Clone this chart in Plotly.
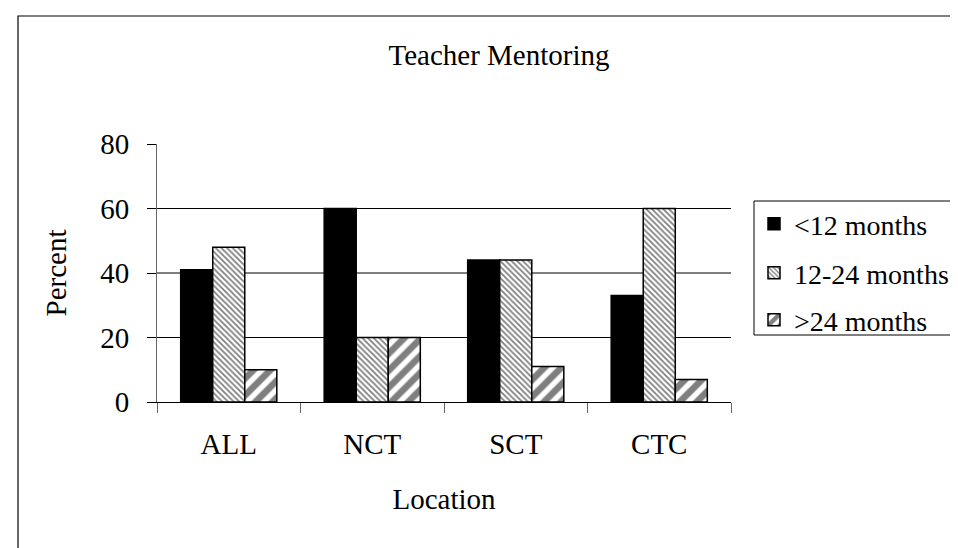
import plotly.graph_objects as go

# ---- data ----
categories = ["ALL", "NCT", "SCT", "CTC"]
series_names = ["<12 months", "12-24 months", ">24 months"]
lt12 = [41, 60, 44, 33]
m12_24 = [48, 20, 44, 60]
gt24 = [10, 20, 11, 7]
y_ticks = [0, 20, 40, 60, 80]
grid_vals = [20, 40, 60]

W, H = 958, 548
L, R, T, B = 149, 723, 136, 394  # plot area in px
FONT = "Liberation Serif, serif"

def px_x(p):
    return (p - L) / (R - L)

def px_y(p):
    return (B - p) / (B - T)

fig = go.Figure()
styles = [
    dict(color="black"),
    dict(color="white", pattern=dict(shape="\\", size=4, solidity=0.45, fgcolor="black", bgcolor="white")),
    dict(color="white", pattern=dict(shape="/", size=12, solidity=0.55, fgcolor="black", bgcolor="white")),
]
legend_ids = ["legend", "legend2", "legend3"]
legend_rows = [216, 265, 312]  # px centre of each legend row
for i, (name, vals) in enumerate(zip(series_names, [lt12, m12_24, gt24])):
    fig.add_trace(go.Bar(
        x=categories, y=vals, name=name, legend=legend_ids[i],
        marker=dict(**styles[i], line=dict(color="black", width=1.5)),
    ))

for g in grid_vals:
    fig.add_shape(type="line", xref="paper", yref="y", x0=0, x1=1, y0=g, y1=g,
                  line=dict(color="black", width=1), layer="below")

# outer chart border (extends beyond the visible canvas right/bottom)
fig.add_shape(type="rect", xref="paper", yref="paper",
              x0=px_x(10), x1=px_x(1100), y0=px_y(700), y1=px_y(8),
              line=dict(color="black", width=1.2), fillcolor="rgba(0,0,0,0)")
# legend box (extends beyond the right edge of the canvas)
fig.add_shape(type="rect", xref="paper", yref="paper",
              x0=px_x(746), x1=px_x(1050), y0=px_y(327), y1=px_y(193),
              line=dict(color="black", width=1), fillcolor="white", layer="below")

leg_common = dict(xanchor="left", yanchor="middle", borderwidth=0, bgcolor="rgba(0,0,0,0)",
                  font=dict(family=FONT, size=28, color="black"))
legend_layout = {}
for lid, row in zip(legend_ids, legend_rows):
    legend_layout[lid] = dict(x=px_x(746), y=px_y(row), **leg_common)

fig.update_layout(
    width=W, height=H,
    margin=dict(l=L, r=W - R, t=T, b=H - B, autoexpand=False),
    paper_bgcolor="white", plot_bgcolor="white",
    font=dict(family=FONT, size=29, color="black"),
    barmode="group", bargap=0.33, bargroupgap=0,
    title=dict(text="Teacher Mentoring", font=dict(family=FONT, size=29, color="black"),
               x=491 / W, xref="container", xanchor="center",
               y=1 - 47 / H, yref="container", yanchor="middle"),
    showlegend=True,
    **legend_layout,
)
fig.update_xaxes(
    type="category", range=[-0.5, 3.5], showgrid=False,
    showline=True, linecolor="black", linewidth=1,
    ticks="outside", tickson="boundaries", ticklen=10, tickcolor="#666", tickwidth=1,
    ticklabelstandoff=16,
    title=dict(text="Location", font=dict(family=FONT, size=29), standoff=29),
    automargin=False,
)
fig.update_yaxes(
    range=[0, 80], tickvals=y_ticks, showgrid=False, zeroline=False,
    showline=True, linecolor="#666", linewidth=1,
    ticks="outside", ticklen=9, tickcolor="black", tickwidth=1,
    ticklabelstandoff=12,
    title=dict(text="Percent", font=dict(family=FONT, size=29), standoff=25),
    automargin=False,
)

fig.write_html("out.html")
